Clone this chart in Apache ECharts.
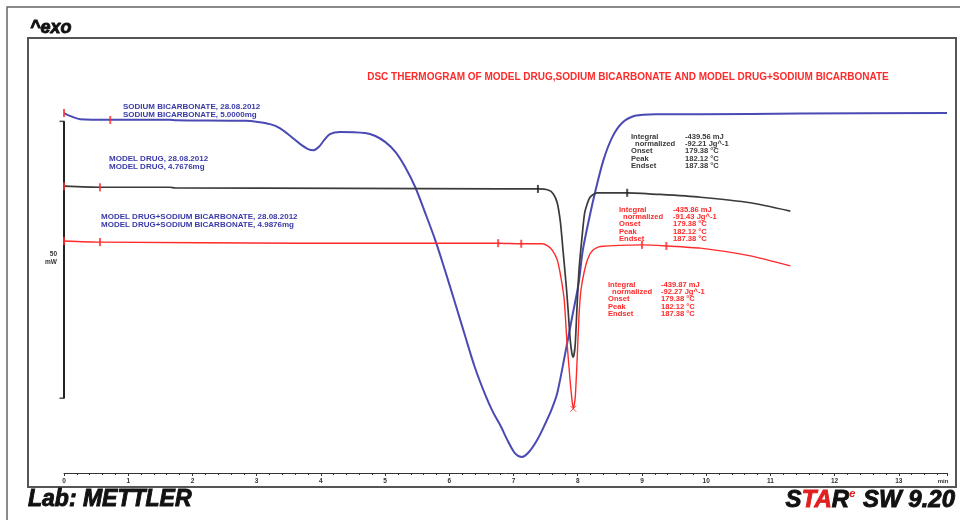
<!DOCTYPE html>
<html>
<head>
<meta charset="utf-8">
<script src="https://cdn.jsdelivr.net/npm/echarts@6/dist/echarts.min.js"></script>
<style>html,body{margin:0;padding:0;background:#fff}#c{width:960px;height:520px}</style>
</head>
<body>
<div id="c"></div>
<script>
// ---- Data (time in min, heat flow in mW, exo up) ----
const title = 'DSC THERMOGRAM OF MODEL DRUG,SODIUM BICARBONATE AND MODEL DRUG+SODIUM BICARBONATE';
const seriesNames = ['SODIUM BICARBONATE', 'MODEL DRUG', 'MODEL DRUG+SODIUM BICARBONATE'];
const seriesDates = ['28.08.2012', '28.08.2012', '28.08.2012'];
const seriesMasses = ['5.0000mg', '4.7676mg', '4.9876mg'];

const blueT = [0,0.09,0.25,0.72,1.65,1.74,2.82,3.02,3.21,3.36,3.52,3.68,3.80,3.89,3.97,4.05,4.14,4.30,4.69,4.84,5.00,5.16,5.31,5.47,5.62,5.78,5.93,6.09,6.25,6.40,6.56,6.68,6.79,6.92,7.02,7.13,7.24,7.37,7.49,7.59,7.68,7.80,7.91,8.01,8.08,8.19,8.27,8.40,8.54,8.69,8.89,9.21,9.91,11.46,13.75];
const blueV = [65.0,64.5,63.9,63.8,63.8,63.7,63.6,63.4,63.0,62.3,60.9,59.4,58.5,58.3,58.9,60.1,61.2,61.6,61.4,60.9,59.8,58.0,55.3,51.6,47.1,42.1,36.7,30.7,24.6,19.0,14.1,11.0,8.7,5.6,3.6,2.9,3.8,6.0,8.8,11.4,14.4,21.3,28.0,34.0,40.3,46.6,50.7,56.5,60.7,63.2,64.5,64.8,64.8,64.9,65.0];

const blackT = [0,0.56,1.65,1.73,4.45,6.79,7.38,7.54,7.62,7.68,7.73,7.77,7.82,7.85,7.88,7.91,7.93,7.96,7.99,8.02,8.07,8.11,8.19,8.30,8.77,9.28,9.91,10.69,11.31];
const blackV = [51.8,51.6,51.6,51.5,51.4,51.3,51.3,51.1,50.4,48.8,45.3,40.3,33.9,29.4,24.4,21.5,20.9,23.1,30.3,36.7,43.0,47.1,49.8,50.6,50.6,50.3,49.8,48.8,47.3];

const redT = [0,0.56,3.68,6.76,7.12,7.45,7.52,7.60,7.68,7.74,7.79,7.83,7.88,7.91,7.93,7.96,7.99,8.02,8.05,8.10,8.16,8.24,8.35,9.00,9.38,9.91,10.69,11.31];
const redV = [41.9,41.7,41.5,41.5,41.4,41.4,41.1,40.3,38.5,35.2,31.2,24.0,16.8,13.2,11.6,13.5,20.4,28.5,33.0,36.3,38.8,40.3,40.9,41.2,41.0,40.6,39.2,37.4];

// evaluation markers [time, mW]
const redMarks = [[0,65.0],[0.72,63.75],[0,51.8],[0.56,51.6],[0,41.9],[0.56,41.7],[6.76,41.5],[7.12,41.4],[9.00,41.2],[9.38,41.0]];
const blackMarks = [[7.38,51.3],[8.77,50.6]];
const peakMark = [[7.93,11.6]];

// scale bar: 50 mW
const scaleTop = 63.5, scaleSize = 50, scaleLabel = ['50', 'mW'];

// evaluation results
const resLabels = ['Integral', '  normalized', 'Onset', 'Peak', 'Endset'];
const resBlack = ['-439.56 mJ', '-92.21 Jg^-1', '179.38 \u00B0C', '182.12 \u00B0C', '187.38 \u00B0C'];
const resRed1 = ['-435.86 mJ', '-91.43 Jg^-1', '179.38 \u00B0C', '182.12 \u00B0C', '187.38 \u00B0C'];
const resRed2 = ['-439.87 mJ', '-92.27 Jg^-1', '179.38 \u00B0C', '182.12 \u00B0C', '187.38 \u00B0C'];
const xUnit = 'min';

// ---- build ----
const zip = (t, v) => t.map((x, i) => [x, v[i]]);
const F = '"Liberation Sans", Arial, sans-serif';
const BLUE = '#4a4ab4', RED = '#ff2a2a', BLACK = '#3a3a3a', NAVY = '#3a3aa8';

function txt(x, y, text, fill, size, opts) {
  opts = opts || {};
  return {type: 'text', x: x, y: y, z: 100, style: Object.assign({
    text: text, fill: fill,
    font: (opts.style || 'normal') + ' ' + (opts.weight || 'bold') + ' ' + size + 'px ' + F,
    textAlign: opts.align || 'left', textVerticalAlign: 'middle'
  }, opts.extra || {})};
}
function resBox(x, xv, y0, vals, color) {
  const out = [];
  resLabels.forEach((l, i) => {
    out.push(txt(x + (i === 1 ? 4 : 0), y0 + i * 7.2, l.trim(), color, 7.6));
    out.push(txt(xv, y0 + i * 7.2, vals[i], color, 7.6));
  });
  return out;
}
const heavy = {stroke: '#111', lineWidth: 0.9};

const graphics = [
  {type: 'rect', shape: {x: 7, y: 7, width: 980, height: 560}, style: {fill: 'none', stroke: '#666', lineWidth: 1.5}, z: 1},
  {type: 'rect', shape: {x: 28, y: 38, width: 928, height: 449}, style: {fill: 'none', stroke: '#555', lineWidth: 2}, z: 1},
  txt(30, 28, '^exo', '#111', 18, {style: 'italic', weight: 'bold', extra: heavy}),
  txt(628, 77, title, RED, 10, {align: 'center'}),
  txt(123, 107, seriesNames[0] + ', ' + seriesDates[0], NAVY, 8),
  txt(123, 115, seriesNames[0] + ', ' + seriesMasses[0], NAVY, 8),
  txt(109, 159, seriesNames[1] + ', ' + seriesDates[1], NAVY, 8),
  txt(109, 167, seriesNames[1] + ', ' + seriesMasses[1], NAVY, 8),
  txt(101, 217, seriesNames[2] + ', ' + seriesDates[2], NAVY, 8),
  txt(101, 225, seriesNames[2] + ', ' + seriesMasses[2], NAVY, 8),
  txt(57, 254, scaleLabel[0], '#333', 6.5, {align: 'right'}),
  txt(57, 262, scaleLabel[1], '#333', 6.5, {align: 'right'}),
  txt(943, 481, xUnit, '#333', 6, {align: 'center'}),
  txt(28, 500, 'Lab: METTLER', '#111', 23, {style: 'italic', extra: heavy}),
  {type: 'text', x: 955, y: 500, z: 100, style: {
    text: '{b|S}{r|TA}{b|R}{s|e}{b| SW 9.20}', textAlign: 'right', textVerticalAlign: 'middle',
    rich: {
      b: {fill: '#111', stroke: '#111', lineWidth: 0.9, font: 'italic bold 24px ' + F},
      r: {fill: '#e02020', stroke: '#e02020', lineWidth: 0.9, font: 'italic bold 24px ' + F},
      s: {fill: '#e02020', font: 'italic bold 11px ' + F, verticalAlign: 'top', padding: [0, 1, 10, 0]}
    }
  }}
].concat(resBox(631, 685, 137, resBlack, BLACK), resBox(619, 673, 210, resRed1, RED), resBox(608, 661, 285, resRed2, RED));

const chart = echarts.init(document.getElementById('c'), null, {renderer: 'canvas'});
chart.setOption({
  animation: false,
  backgroundColor: '#fff',
  grid: {left: 64, right: 13, top: 30, bottom: 47},
  xAxis: {
    type: 'value', min: 0, max: 13.75, interval: 1,
    axisLine: {lineStyle: {color: '#333', width: 1}},
    axisTick: {length: 3, lineStyle: {color: '#333'}},
    minorTick: {show: true, splitNumber: 5, length: 2, lineStyle: {color: '#333'}},
    splitLine: {show: false},
    axisLabel: {fontSize: 6.5, fontWeight: 'bold', color: '#333', margin: 5, fontFamily: F,
      showMaxLabel: false}
  },
  yAxis: {type: 'value', min: 0, max: 80, show: false},
  graphic: graphics,
  series: [
    {type: 'line', data: zip(blueT, blueV), showSymbol: false, smooth: 0.3, lineStyle: {color: BLUE, width: 2}, z: 3},
    {type: 'line', data: zip(blackT, blackV), showSymbol: false, smooth: 0.2, lineStyle: {color: BLACK, width: 1.7}, z: 4},
    {type: 'line', data: zip(redT, redV), showSymbol: false, smooth: 0.2, lineStyle: {color: RED, width: 1.4}, z: 5},
    {type: 'line', data: [[0, scaleTop], [0, scaleTop - scaleSize]], showSymbol: false, lineStyle: {color: '#222', width: 2}, z: 2},
    {type: 'scatter', data: [[0, scaleTop], [0, scaleTop - scaleSize]], symbol: 'rect', symbolSize: [5, 1.5], symbolOffset: [-2, 0], itemStyle: {color: '#222'}, z: 2},
    {type: 'scatter', data: redMarks, symbol: 'rect', symbolSize: [2, 8], itemStyle: {color: RED}, z: 6},
    {type: 'scatter', data: blackMarks, symbol: 'rect', symbolSize: [2, 8], itemStyle: {color: '#222'}, z: 6},
    {type: 'scatter', data: peakMark, symbol: 'path://M0,0L10,10M10,0L0,10', symbolSize: 6,
      itemStyle: {color: 'none', borderColor: RED, borderWidth: 1}, z: 6}
  ]
});
</script>
</body>
</html>
